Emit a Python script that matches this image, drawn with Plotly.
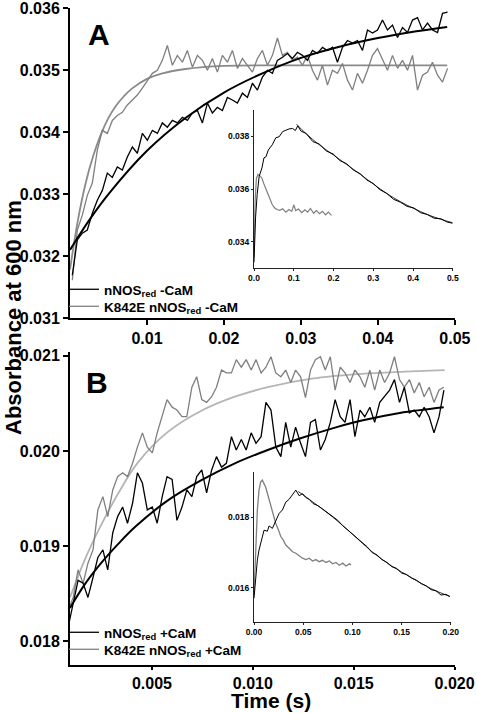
import plotly.graph_objects as go

W, H = 477, 713

# ---------------- Panel A (-CaM) main traces ----------------
tA = [0.00030, 0.00095, 0.00160, 0.00225, 0.00290, 0.00355, 0.00420, 0.00485, 0.00550, 0.00615,
      0.00680, 0.00745, 0.00810, 0.00875, 0.00940, 0.01005, 0.01070, 0.01135, 0.01200, 0.01265,
      0.01330, 0.01395, 0.01460, 0.01525, 0.01590, 0.01655, 0.01720, 0.01785, 0.01850, 0.01915,
      0.01980, 0.02045, 0.02110, 0.02175, 0.02240, 0.02305, 0.02370, 0.02435, 0.02500, 0.02565,
      0.02630, 0.02695, 0.02760, 0.02825, 0.02890, 0.02955, 0.03020, 0.03085, 0.03150, 0.03215,
      0.03280, 0.03345, 0.03410, 0.03475, 0.03540, 0.03605, 0.03670, 0.03735, 0.03800, 0.03865,
      0.03930, 0.03995, 0.04060, 0.04125, 0.04190, 0.04255, 0.04320, 0.04385, 0.04450, 0.04515,
      0.04580, 0.04645, 0.04710, 0.04775, 0.04840, 0.04905]
yA_wt = [0.03169, 0.03226, 0.03237, 0.03242, 0.03269, 0.03290, 0.03306, 0.03334, 0.03327, 0.03344,
         0.03339, 0.03360, 0.03376, 0.03366, 0.03398, 0.03387, 0.03403, 0.03398, 0.03415, 0.03408,
         0.03419, 0.03415, 0.03424, 0.03419, 0.03431, 0.03435, 0.03415, 0.03447, 0.03431, 0.03440,
         0.03435, 0.03456, 0.03452, 0.03447, 0.03463, 0.03456, 0.03479, 0.03468, 0.03489,
         0.03500, 0.03495, 0.03516, 0.03521, 0.03527, 0.03519, 0.03529, 0.03524, 0.03516, 0.03532,
         0.03527, 0.03537, 0.03532, 0.03537, 0.03513, 0.03537, 0.03548, 0.03544, 0.03548, 0.03532,
         0.03565, 0.03560, 0.03565, 0.03581, 0.03565, 0.03573, 0.03553, 0.03569, 0.03561, 0.03581,
         0.03585, 0.03565, 0.03576, 0.03565, 0.03561, 0.03592, 0.03594]
yA_mut = [0.03161, 0.03242, 0.03266, 0.03298, 0.03318, 0.03371, 0.03403, 0.03398, 0.03419, 0.03427,
          0.03432, 0.03444, 0.03452, 0.03460, 0.03471, 0.03484, 0.03495, 0.03500, 0.03516, 0.03540,
          0.03508, 0.03524, 0.03513, 0.03532, 0.03505, 0.03524, 0.03516, 0.03500, 0.03519, 0.03497,
          0.03524, 0.03513, 0.03532, 0.03503, 0.03519, 0.03508, 0.03497, 0.03519, 0.03532,
          0.03508, 0.03524, 0.03552, 0.03524, 0.03529, 0.03516, 0.03521, 0.03508, 0.03524, 0.03500,
          0.03484, 0.03508, 0.03476, 0.03500, 0.03495, 0.03511, 0.03484, 0.03468, 0.03495, 0.03479,
          0.03500, 0.03524, 0.03535, 0.03516, 0.03500, 0.03524, 0.03503, 0.03516, 0.03500, 0.03524,
          0.03468, 0.03492, 0.03497, 0.03513, 0.03492, 0.03481, 0.03503]
tA_fit_wt = [0.0, 0.0025, 0.005, 0.010, 0.015, 0.020, 0.025, 0.030, 0.035, 0.040, 0.045, 0.049]
yA_fit_wt = [0.03210, 0.03258, 0.03300, 0.03370, 0.03423, 0.03464, 0.03495, 0.03520, 0.03538, 0.03552, 0.03563, 0.03570]
tA_fit_mut = [0.0, 0.001, 0.002, 0.003, 0.004, 0.005, 0.006, 0.007, 0.008, 0.010, 0.012, 0.015, 0.020, 0.030, 0.049]
yA_fit_mut = [0.03178, 0.03256, 0.03316, 0.03361, 0.03396, 0.03423, 0.03443, 0.03458, 0.03470, 0.03486,
              0.03495, 0.03502, 0.03507, 0.03508, 0.03508]

# ---------------- Panel A inset ----------------
tAi_wt = [0.000, 0.004, 0.008, 0.013, 0.020, 0.025, 0.030, 0.036, 0.046, 0.055, 0.063, 0.072, 0.080,
          0.088, 0.097, 0.104, 0.110, 0.118, 0.131, 0.148, 0.165, 0.182, 0.199, 0.216, 0.233, 0.250,
          0.267, 0.284, 0.300, 0.317, 0.334, 0.351, 0.368, 0.385, 0.402, 0.419, 0.436, 0.453, 0.470,
          0.485, 0.499]
yAi_wt = [0.03322, 0.03493, 0.03580, 0.03648, 0.03680, 0.03718, 0.03722, 0.03748, 0.03768, 0.03795,
          0.03798, 0.03818, 0.03823, 0.03828, 0.03830, 0.03822, 0.03840, 0.03820, 0.03811, 0.03780,
          0.03770, 0.03744, 0.03733, 0.03708, 0.03696, 0.03672, 0.03658, 0.03634, 0.03621, 0.03597,
          0.03583, 0.03561, 0.03550, 0.03534, 0.03528, 0.03510, 0.03503, 0.03489, 0.03487, 0.03475,
          0.03470]
tAi_fit = [0.107, 0.131, 0.165, 0.199, 0.233, 0.267, 0.300, 0.334, 0.368, 0.402, 0.436, 0.470, 0.499]
yAi_fit = [0.03846, 0.03810, 0.03767, 0.03730, 0.03693, 0.03656, 0.03619, 0.03583, 0.03552, 0.03526,
           0.03503, 0.03485, 0.03472]
tAi_mut = [0.000, 0.003, 0.006, 0.010, 0.015, 0.020, 0.025, 0.030, 0.035, 0.040, 0.046, 0.052, 0.058,
           0.065, 0.072, 0.080, 0.088, 0.095, 0.100, 0.105, 0.112, 0.120, 0.128, 0.135, 0.142, 0.150,
           0.157, 0.165, 0.172, 0.180, 0.187, 0.195]
yAi_mut = [0.03340, 0.03560, 0.03640, 0.03655, 0.03650, 0.03641, 0.03619, 0.03600, 0.03581, 0.03560,
           0.03540, 0.03528, 0.03522, 0.03519, 0.03525, 0.03512, 0.03522, 0.03515, 0.03540, 0.03518,
           0.03524, 0.03510, 0.03521, 0.03512, 0.03526, 0.03508, 0.03518, 0.03506, 0.03515, 0.03502,
           0.03512, 0.03500]

# ---------------- Panel B (+CaM) main traces ----------------
tB = [0.00085, 0.00110, 0.00134, 0.00159, 0.00183, 0.00208, 0.00232, 0.00257, 0.00281, 0.00306,
      0.00330, 0.00355, 0.00379, 0.00404, 0.00428, 0.00453, 0.00477, 0.00502, 0.00526, 0.00551,
      0.00575, 0.00600, 0.00624, 0.00649, 0.00673, 0.00698, 0.00722, 0.00747, 0.00771, 0.00796,
      0.00820, 0.00845, 0.00869, 0.00894, 0.00918, 0.00943, 0.00967, 0.00992, 0.01016, 0.01041,
      0.01065, 0.01090, 0.01114, 0.01139, 0.01163, 0.01188, 0.01212, 0.01237, 0.01261, 0.01286,
      0.01310, 0.01335, 0.01359, 0.01384, 0.01408, 0.01433, 0.01457, 0.01482, 0.01506, 0.01531,
      0.01555, 0.01580, 0.01604, 0.01629, 0.01653, 0.01678, 0.01702, 0.01727, 0.01751, 0.01776,
      0.01800, 0.01825, 0.01849, 0.01874, 0.01898, 0.01923, 0.01947]
yB_wt = [0.01815, 0.01840, 0.01864, 0.01861, 0.01846, 0.01867, 0.01888, 0.01896, 0.01875, 0.01914,
         0.01931, 0.01941, 0.01924, 0.01945, 0.01977, 0.01966, 0.01938, 0.01941, 0.01924, 0.01952,
         0.01973, 0.01970, 0.01927, 0.01941, 0.01959, 0.01952, 0.01973, 0.01980, 0.01956, 0.01980,
         0.01994, 0.01983, 0.01987, 0.02015, 0.02001, 0.02012, 0.02001, 0.02019, 0.02008, 0.02015,
         0.02051,
         0.02043, 0.02004, 0.01994, 0.02030, 0.02004, 0.02025, 0.02008, 0.01994, 0.02030, 0.02033,
         0.02001, 0.02012, 0.02030, 0.02054, 0.02036, 0.02030, 0.02054, 0.02015, 0.02043, 0.02036,
         0.02046, 0.02030, 0.02051, 0.02057, 0.02064, 0.02075, 0.02051, 0.02067, 0.02040, 0.02043,
         0.02036, 0.02046, 0.02036, 0.02019, 0.02036, 0.02064]
yB_mut = [0.01833, 0.01846, 0.01875, 0.01861, 0.01882, 0.01896, 0.01938, 0.01952, 0.01931, 0.01959,
          0.01973, 0.01977, 0.01973, 0.01987, 0.02004, 0.02019, 0.02004, 0.01998, 0.02019, 0.02036,
          0.02054, 0.02046, 0.02043, 0.02036, 0.02036, 0.02067, 0.02078, 0.02054, 0.02051, 0.02057,
          0.02067, 0.02085, 0.02082, 0.02082, 0.02096, 0.02088, 0.02096, 0.02085, 0.02096, 0.02082,
          0.02088,
          0.02099, 0.02082, 0.02078, 0.02085, 0.02072, 0.02085, 0.02078, 0.02056, 0.02085, 0.02096,
          0.02099, 0.02085, 0.02099, 0.02064, 0.02088, 0.02082, 0.02072, 0.02085, 0.02078, 0.02067,
          0.02085, 0.02064, 0.02085, 0.02072, 0.02082, 0.02099, 0.02075, 0.02067, 0.02075, 0.02061,
          0.02072, 0.02057, 0.02067, 0.02051, 0.02064, 0.02067]
tB_fit_wt = [0.00094, 0.00168, 0.00248, 0.00332, 0.00416, 0.00579, 0.00743, 0.00911, 0.01074, 0.01233,
             0.01416, 0.01540, 0.01728, 0.01946]
yB_fit_wt = [0.01835, 0.01860, 0.01882, 0.01902, 0.01920, 0.01948, 0.01969, 0.01987, 0.02001, 0.02013,
             0.02025, 0.02032, 0.02040, 0.02046]
tB_fit_mut = [0.00094, 0.00168, 0.00248, 0.00332, 0.00431, 0.00579, 0.00743, 0.00911, 0.01074, 0.01292,
              0.01540, 0.01951]
yB_fit_mut = [0.01846, 0.01886, 0.01922, 0.01955, 0.01988, 0.02020, 0.02042, 0.02057, 0.02067, 0.02076,
              0.02081, 0.02085]

# ---------------- Panel B inset ----------------
tBi_wt = [0.000, 0.0017, 0.0034, 0.0051, 0.0068, 0.0102, 0.0136, 0.0153, 0.0187, 0.0221, 0.0255,
          0.0289, 0.0323, 0.0357, 0.0391, 0.0425, 0.0459, 0.0493, 0.0527, 0.0561, 0.060, 0.065, 0.070,
          0.075, 0.080, 0.085, 0.090, 0.095, 0.100, 0.105, 0.110, 0.115, 0.120, 0.125, 0.130, 0.135,
          0.140, 0.145, 0.150, 0.155, 0.160, 0.165, 0.170, 0.175, 0.180, 0.185, 0.190, 0.195, 0.199]
yBi_wt = [0.01571, 0.01623, 0.01679, 0.01707, 0.01726, 0.01763, 0.01760, 0.01775, 0.01768, 0.01790,
          0.01810, 0.01820, 0.01842, 0.01850, 0.01862, 0.01876, 0.01860, 0.01866, 0.01855, 0.01850,
          0.01838, 0.01832, 0.01822, 0.01812, 0.01800, 0.01791, 0.01776, 0.01764, 0.01752, 0.01738,
          0.01726, 0.01716, 0.01700, 0.01693, 0.01680, 0.01672, 0.01660, 0.01655, 0.01642, 0.01638,
          0.01628, 0.01622, 0.01612, 0.01606, 0.01595, 0.01592, 0.01580, 0.01582, 0.01576]
tBi_fit = [0.045, 0.060, 0.080, 0.100, 0.120, 0.140, 0.160, 0.180, 0.199]
yBi_fit = [0.01872, 0.01842, 0.01800, 0.01752, 0.01702, 0.01662, 0.01629, 0.01598, 0.01576]
tBi_mut = [0.000, 0.0017, 0.0034, 0.0051, 0.0068, 0.0085, 0.0102, 0.0119, 0.0136, 0.0153, 0.0170,
           0.0196, 0.0221, 0.0247, 0.0272, 0.0298, 0.0323, 0.0357, 0.0391, 0.0425, 0.0459, 0.0493,
           0.0527, 0.0561, 0.0595, 0.0629, 0.0663, 0.0697, 0.0731, 0.0765, 0.0799, 0.0833, 0.0867,
           0.0901, 0.0935, 0.0969, 0.0986]
yBi_mut = [0.01580, 0.01700, 0.01820, 0.01876, 0.01899, 0.01904, 0.01895, 0.01884, 0.01867, 0.01850,
           0.01829, 0.01805, 0.01782, 0.01765, 0.01745, 0.01735, 0.01721, 0.01712, 0.01702, 0.01698,
           0.01690, 0.01684, 0.01680, 0.01684, 0.01676, 0.01680, 0.01674, 0.01678, 0.01672, 0.01676,
           0.01668, 0.01672, 0.01664, 0.01670, 0.01662, 0.01668, 0.01665]

# ---------------- ticks ----------------
xA_ticks = [0.01, 0.02, 0.03, 0.04, 0.05]
yA_ticks = [0.031, 0.032, 0.033, 0.034, 0.035, 0.036]
xB_ticks = [0.005, 0.010, 0.015, 0.020]
yB_ticks = [0.018, 0.019, 0.020, 0.021]
xAi_ticks = [0.0, 0.1, 0.2, 0.3, 0.4, 0.5]
yAi_ticks = [0.034, 0.036, 0.038]
xBi_ticks = [0.00, 0.05, 0.10, 0.15, 0.20]
yBi_ticks = [0.016, 0.018]

BLACK = "#000000"
GRAY = "#7f7f7f"
GRAYFIT = "#8a8a8a"
LIGHT = "#b5b5b5"
FONT = "Liberation Sans, Arial, sans-serif"


def px_x(p):
    return p / W


def px_y(p):
    return 1 - p / H


fig = go.Figure()


def line(x, y, xa, ya, color, width, name=None, legend=None, shape="linear"):
    n = min(len(x), len(y))
    kw = dict(name=name, showlegend=True, legend=legend) if name else dict(showlegend=False)
    fig.add_trace(go.Scatter(
        x=x[:n], y=y[:n], xaxis=xa, yaxis=ya, mode="lines",
        line=dict(color=color, width=width, shape=shape), hoverinfo="skip", **kw))


# Panel A
line(tA_fit_mut, yA_fit_mut, "x", "y", GRAYFIT, 1.8, shape="spline")
line(tA, yA_mut, "x", "y", GRAY, 1.3, name="K842E nNOS<sub>red</sub> -CaM", legend="legend2")
line(tA, yA_wt, "x", "y", BLACK, 1.3, name="nNOS<sub>red</sub> -CaM", legend="legend")
line(tA_fit_wt, yA_fit_wt, "x", "y", BLACK, 2.0, shape="spline")
# Inset A
line(tAi_mut, yAi_mut, "x3", "y3", GRAY, 1.2)
line(tAi_wt, yAi_wt, "x3", "y3", BLACK, 1.0)
line(tAi_fit, yAi_fit, "x3", "y3", BLACK, 0.8, shape="spline")
# Panel B
line(tB_fit_mut, yB_fit_mut, "x2", "y2", LIGHT, 1.8, shape="spline")
line(tB, yB_mut, "x2", "y2", GRAY, 1.3, name="K842E nNOS<sub>red</sub> +CaM", legend="legend4")
line(tB, yB_wt, "x2", "y2", BLACK, 1.3, name="nNOS<sub>red</sub> +CaM", legend="legend3")
line(tB_fit_wt, yB_fit_wt, "x2", "y2", BLACK, 2.0, shape="spline")
# Inset B
line(tBi_mut, yBi_mut, "x4", "y4", GRAY, 1.3)
line(tBi_wt, yBi_wt, "x4", "y4", BLACK, 1.0)
line(tBi_fit, yBi_fit, "x4", "y4", BLACK, 0.8, shape="spline")


def main_axis(domain, rng, ticks, fmt, anchor, ticklen=5):
    return dict(domain=domain, range=rng, anchor=anchor, automargin=False, showline=True,
                linecolor=BLACK, linewidth=2, ticks="outside", ticklen=ticklen, tickwidth=2,
                tickcolor=BLACK, tickvals=ticks, ticktext=[fmt.format(v) for v in ticks],
                tickfont=dict(family=FONT, size=16, color=BLACK, weight="bold"),
                ticklabeloverflow="allow",
                showgrid=False, zeroline=False, mirror=False, fixedrange=True)


def inset_axis(domain, rng, ticks, fmt, anchor):
    return dict(domain=domain, range=rng, anchor=anchor, automargin=False, showline=True,
                linecolor="#222222", linewidth=1, ticks="outside", ticklen=2, tickwidth=1,
                tickcolor="#222222", tickvals=ticks, ticktext=[fmt.format(v) for v in ticks],
                tickfont=dict(family=FONT, size=8.5, color=BLACK, weight="bold"),
                ticklabeloverflow="allow",
                showgrid=False, zeroline=False, mirror=False, fixedrange=True)


def legend_at(px, py):
    return dict(x=px_x(px), y=px_y(py), xanchor="left", yanchor="top", bgcolor="rgba(0,0,0,0)",
                font=dict(family=FONT, size=13.5, color=BLACK, weight="bold"),
                itemwidth=30, tracegroupgap=0)


def label(text, px, py, size, angle=0):
    return dict(text=text, x=px_x(px), y=px_y(py), xref="paper", yref="paper", showarrow=False,
                xanchor="center", yanchor="middle", textangle=angle,
                font=dict(family=FONT, size=size, color=BLACK, weight="bold"))


fig.update_layout(
    width=W, height=H, margin=dict(l=0, r=0, t=0, b=0, autoexpand=False),
    paper_bgcolor="white", plot_bgcolor="white",
    xaxis=main_axis([px_x(70), px_x(455)], [0.0, 0.05002], xA_ticks, "{:.2f}", "y"),
    yaxis=main_axis([px_y(318), px_y(8)], [0.031, 0.036005], yA_ticks, "{:.3f}", "x"),
    xaxis2=main_axis([px_x(70), px_x(455)], [0.00094, 0.02002], xB_ticks, "{:.3f}", "y2", ticklen=3),
    yaxis2=main_axis([px_y(665), px_y(352)], [0.01775, 0.02104], yB_ticks, "{:.3f}", "x2"),
    xaxis3=inset_axis([px_x(254), px_x(453)], [0.0, 0.5005], xAi_ticks, "{:.1f}", "y3"),
    yaxis3=inset_axis([px_y(268), px_y(110)], [0.0330, 0.0390], yAi_ticks, "{:.3f}", "x3"),
    xaxis4=inset_axis([px_x(254), px_x(451)], [0.0, 0.2002], xBi_ticks, "{:.2f}", "y4"),
    yaxis4=inset_axis([px_y(622), px_y(472)], [0.01504, 0.01927], yBi_ticks, "{:.3f}", "x4"),
    legend=legend_at(64, 274),
    legend2=legend_at(64, 291),
    legend3=legend_at(64, 617),
    legend4=legend_at(64, 634),
    annotations=[
        label("A", 99, 34, 30),
        label("B", 97, 382, 30),
        label("Absorbance at 600 nm", 14, 318, 22, angle=-90),
        label("Time (s)", 271, 700, 21),
    ],
)

# the page's default 8px body margin would shift the figure; remove it so the
# figure fills the 477x713 window exactly
fig.write_html("out.html", config={"displayModeBar": False},
               post_script="document.body.style.margin='0px';")
